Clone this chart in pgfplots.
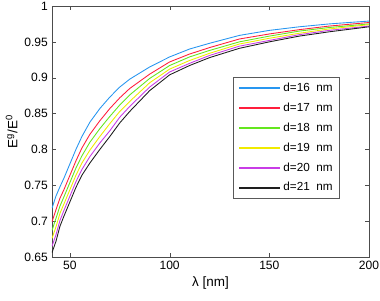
\documentclass[border=0pt]{standalone}
\usepackage{fontspec}
\setmainfont{Liberation Sans}
\usepackage{pgfplots}
\pgfplotsset{compat=1.18}
\definecolor{c1}{RGB}{40,150,240}
\definecolor{c2}{RGB}{255,30,60}
\definecolor{c3}{RGB}{100,230,30}
\definecolor{c4}{RGB}{240,235,0}
\definecolor{c5}{RGB}{200,60,230}
\definecolor{c6}{RGB}{30,30,30}
\begin{document}
\begin{tikzpicture}
\path[use as bounding box] (-1.56cm,-1.29cm) rectangle (9.84cm,7.71cm);
\begin{axis}[
  at={(0,0)}, anchor=south west,
  scale only axis, width=9.51cm, height=7.53cm,
  xmin=41, xmax=200, ymin=0.65, ymax=1,
  xtick={50,100,150,200},
  ytick={0.65,0.7,0.75,0.8,0.85,0.9,0.95,1},
  yticklabels={0.65,0.7,0.75,0.8,0.85,0.9,0.95,1},
  tick align=inside,
  major tick length=0.12cm,
  axis line style={color=black!70},
  tick style={color=black!70},
  /pgf/number format/assume math mode=true,
  tick label style={font=\fontsize{10.3}{12}\selectfont},
  label style={font=\fontsize{11.5}{13}\selectfont},
  xlabel={λ [nm]},
  ylabel={E\textsuperscript{g}/E\textsuperscript{0}},
  xlabel style={yshift=1pt},
  ylabel style={yshift=-1pt},
  legend style={at={(0.908,0.717)}, anchor=north east, draw=black!65,
    font=\fontsize{10}{12}\selectfont, row sep=4.2pt, inner xsep=4pt, inner ysep=3pt},
  legend cell align=left,
  legend image code/.code={\draw[#1, line width=1.7pt] (0cm,0cm) -- (1.23cm,0cm);},
  every axis plot/.append style={line width=0.75pt},
]
\addplot[c1] coordinates {(41,0.718)(43,0.735)(45,0.748)(47,0.760)(50,0.780)(53,0.800)(56,0.818)(60,0.838)(65,0.857)(70,0.873)(75,0.887)(80,0.898)(90,0.915)(100,0.929)(110,0.940)(120,0.948)(135,0.959)(150,0.966)(165,0.971)(180,0.975)(200,0.979)};
\addlegendentry{d=16\ \ nm}
\addplot[c2] coordinates {(41,0.699)(43,0.716)(45,0.732)(47,0.744)(50,0.764)(53,0.784)(56,0.802)(60,0.821)(65,0.840)(70,0.857)(75,0.872)(80,0.885)(90,0.905)(100,0.922)(110,0.933)(120,0.942)(135,0.954)(150,0.961)(165,0.967)(180,0.972)(200,0.977)};
\addlegendentry{d=17\ \ nm}
\addplot[c3] coordinates {(41,0.687)(43,0.704)(45,0.721)(47,0.734)(50,0.754)(53,0.774)(56,0.791)(60,0.810)(65,0.829)(70,0.846)(75,0.862)(80,0.876)(90,0.899)(100,0.917)(110,0.929)(120,0.938)(135,0.950)(150,0.958)(165,0.965)(180,0.970)(200,0.975)};
\addlegendentry{d=18\ \ nm}
\addplot[c4] coordinates {(41,0.676)(43,0.692)(45,0.711)(47,0.724)(50,0.744)(53,0.764)(56,0.781)(60,0.799)(65,0.818)(70,0.836)(75,0.853)(80,0.867)(90,0.893)(100,0.912)(110,0.924)(120,0.934)(135,0.947)(150,0.955)(165,0.962)(180,0.968)(200,0.974)};
\addlegendentry{d=19\ \ nm}
\addplot[c5] coordinates {(41,0.665)(43,0.681)(45,0.701)(47,0.715)(50,0.735)(53,0.755)(56,0.772)(60,0.790)(65,0.809)(70,0.826)(75,0.845)(80,0.860)(90,0.887)(100,0.908)(110,0.920)(120,0.931)(135,0.944)(150,0.952)(165,0.960)(180,0.966)(200,0.972)};
\addlegendentry{d=20\ \ nm}
\addplot[c6] coordinates {(41,0.656)(43,0.672)(45,0.693)(47,0.707)(50,0.727)(53,0.747)(56,0.764)(60,0.781)(65,0.800)(70,0.818)(75,0.837)(80,0.853)(90,0.882)(100,0.904)(110,0.917)(120,0.928)(135,0.941)(150,0.950)(165,0.958)(180,0.964)(200,0.971)};
\addlegendentry{d=21\ \ nm}
\end{axis}
\end{tikzpicture}
\end{document}
